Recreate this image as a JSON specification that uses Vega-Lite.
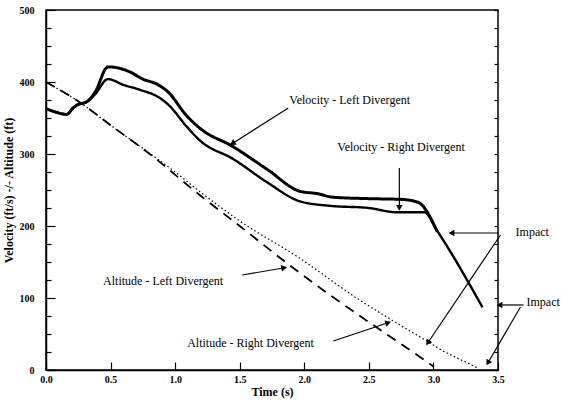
{
  "$schema": "https://vega.github.io/schema/vega-lite/v6.json",
  "width": 452,
  "height": 360,
  "autosize": {"type": "none"},
  "padding": {"left": 46, "top": 10, "right": 64, "bottom": 34},
  "background": "white",
  "config": {
    "view": {"stroke": "black", "strokeWidth": 1.5},
    "font": "Liberation Serif",
    "axis": {
      "grid": false,
      "domainColor": "black",
      "domainWidth": 1.5,
      "tickColor": "black",
      "tickWidth": 1.2,
      "labelColor": "black",
      "labelFont": "Liberation Serif",
      "labelFontWeight": "bold",
      "labelFontSize": 10,
      "titleColor": "black",
      "titleFont": "Liberation Serif",
      "titleFontWeight": "bold",
      "titleFontSize": 12,
      "labelOverlap": false,
      "labelFlush": false
    }
  },
  "datasets": {
    "curves": [
      {"series": "Velocity - Left Divergent", "t": 0, "v": 363},
      {"series": "Velocity - Left Divergent", "t": 0.08, "v": 358},
      {"series": "Velocity - Left Divergent", "t": 0.16, "v": 355},
      {"series": "Velocity - Left Divergent", "t": 0.21, "v": 364},
      {"series": "Velocity - Left Divergent", "t": 0.24, "v": 368},
      {"series": "Velocity - Left Divergent", "t": 0.32, "v": 373},
      {"series": "Velocity - Left Divergent", "t": 0.38, "v": 386},
      {"series": "Velocity - Left Divergent", "t": 0.48, "v": 421},
      {"series": "Velocity - Left Divergent", "t": 0.57, "v": 419},
      {"series": "Velocity - Left Divergent", "t": 0.65, "v": 414},
      {"series": "Velocity - Left Divergent", "t": 0.75, "v": 404},
      {"series": "Velocity - Left Divergent", "t": 0.86, "v": 397},
      {"series": "Velocity - Left Divergent", "t": 0.94, "v": 387},
      {"series": "Velocity - Left Divergent", "t": 1.09, "v": 353},
      {"series": "Velocity - Left Divergent", "t": 1.19, "v": 336},
      {"series": "Velocity - Left Divergent", "t": 1.45, "v": 310},
      {"series": "Velocity - Left Divergent", "t": 1.71, "v": 279},
      {"series": "Velocity - Left Divergent", "t": 1.97, "v": 248},
      {"series": "Velocity - Left Divergent", "t": 2.1, "v": 245},
      {"series": "Velocity - Left Divergent", "t": 2.22, "v": 240},
      {"series": "Velocity - Left Divergent", "t": 2.5, "v": 238},
      {"series": "Velocity - Left Divergent", "t": 2.75, "v": 237},
      {"series": "Velocity - Left Divergent", "t": 2.88, "v": 233},
      {"series": "Velocity - Left Divergent", "t": 3.03, "v": 192},
      {"series": "Velocity - Right Divergent", "t": 0, "v": 363},
      {"series": "Velocity - Right Divergent", "t": 0.08, "v": 358},
      {"series": "Velocity - Right Divergent", "t": 0.16, "v": 355},
      {"series": "Velocity - Right Divergent", "t": 0.21, "v": 364},
      {"series": "Velocity - Right Divergent", "t": 0.24, "v": 368},
      {"series": "Velocity - Right Divergent", "t": 0.32, "v": 373},
      {"series": "Velocity - Right Divergent", "t": 0.38, "v": 383},
      {"series": "Velocity - Right Divergent", "t": 0.48, "v": 404},
      {"series": "Velocity - Right Divergent", "t": 0.6, "v": 396},
      {"series": "Velocity - Right Divergent", "t": 0.73, "v": 389},
      {"series": "Velocity - Right Divergent", "t": 0.88, "v": 378},
      {"series": "Velocity - Right Divergent", "t": 0.95, "v": 368},
      {"series": "Velocity - Right Divergent", "t": 1.09, "v": 338},
      {"series": "Velocity - Right Divergent", "t": 1.19, "v": 319},
      {"series": "Velocity - Right Divergent", "t": 1.45, "v": 293},
      {"series": "Velocity - Right Divergent", "t": 1.71, "v": 261},
      {"series": "Velocity - Right Divergent", "t": 1.97, "v": 234},
      {"series": "Velocity - Right Divergent", "t": 2.2, "v": 228},
      {"series": "Velocity - Right Divergent", "t": 2.5, "v": 225},
      {"series": "Velocity - Right Divergent", "t": 2.72, "v": 219},
      {"series": "Velocity - Right Divergent", "t": 2.93, "v": 219},
      {"series": "Velocity - Right Divergent", "t": 3.03, "v": 193},
      {"series": "Velocity - Right Divergent", "t": 3.38, "v": 87},
      {"series": "Altitude - Left Divergent", "t": 0, "v": 400},
      {"series": "Altitude - Left Divergent", "t": 0.26, "v": 372},
      {"series": "Altitude - Left Divergent", "t": 0.5, "v": 340},
      {"series": "Altitude - Left Divergent", "t": 0.81, "v": 299},
      {"series": "Altitude - Left Divergent", "t": 1.19, "v": 243},
      {"series": "Altitude - Left Divergent", "t": 1.5, "v": 200},
      {"series": "Altitude - Left Divergent", "t": 1.89, "v": 145},
      {"series": "Altitude - Left Divergent", "t": 2.2, "v": 104},
      {"series": "Altitude - Left Divergent", "t": 2.57, "v": 58},
      {"series": "Altitude - Left Divergent", "t": 2.8, "v": 30},
      {"series": "Altitude - Left Divergent", "t": 3.0, "v": 5},
      {"series": "Altitude - Right Divergent", "t": 0, "v": 400},
      {"series": "Altitude - Right Divergent", "t": 0.26, "v": 372},
      {"series": "Altitude - Right Divergent", "t": 0.5, "v": 340},
      {"series": "Altitude - Right Divergent", "t": 0.81, "v": 300},
      {"series": "Altitude - Right Divergent", "t": 1.0, "v": 275},
      {"series": "Altitude - Right Divergent", "t": 1.19, "v": 248},
      {"series": "Altitude - Right Divergent", "t": 1.5, "v": 207},
      {"series": "Altitude - Right Divergent", "t": 1.95, "v": 157},
      {"series": "Altitude - Right Divergent", "t": 2.43, "v": 97},
      {"series": "Altitude - Right Divergent", "t": 2.7, "v": 67},
      {"series": "Altitude - Right Divergent", "t": 2.96, "v": 39},
      {"series": "Altitude - Right Divergent", "t": 3.05, "v": 29},
      {"series": "Altitude - Right Divergent", "t": 3.26, "v": 10},
      {"series": "Altitude - Right Divergent", "t": 3.35, "v": 2}
    ],
    "arrows": [
      {"t0": 1.876, "v0": 363.9, "t1": 1.45, "v1": 315.3, "angle": 237.5},
      {"t0": 2.736, "v0": 280.6, "t1": 2.736, "v1": 226.4, "angle": 180},
      {"t0": 1.519, "v0": 131.9, "t1": 1.837, "v1": 141.7, "angle": 80.3},
      {"t0": 2.225, "v0": 40.3, "t1": 2.643, "v1": 65.3, "angle": 71.6},
      {"t0": 3.504, "v0": 190.3, "t1": 3.147, "v1": 190.3, "angle": 270},
      {"t0": 3.519, "v0": 187.5, "t1": 2.961, "v1": 38.9, "angle": 213.9},
      {"t0": 3.698, "v0": 90.3, "t1": 3.519, "v1": 90.3, "angle": 270},
      {"t0": 3.674, "v0": 87.5, "t1": 3.426, "v1": 11.1, "angle": 210.2}
    ],
    "labels": [
      {"label": "Velocity - Left Divergent", "t": 1.884, "v": 375},
      {"label": "Velocity - Right Divergent", "t": 2.256, "v": 309.7},
      {"label": "Altitude - Left Divergent", "t": 0.442, "v": 123.6},
      {"label": "Altitude - Right Divergent", "t": 1.093, "v": 37.5},
      {"label": "Impact", "t": 3.636, "v": 191.7},
      {"label": "Impact", "t": 3.721, "v": 94.4}
    ]
  },
  "layer": [
    {
      "data": {"name": "curves"},
      "mark": {"type": "line", "color": "black", "strokeCap": "butt", "strokeJoin": "round", "interpolate": "monotone"},
      "encoding": {
        "x": {
          "field": "t", "type": "quantitative",
          "scale": {"domain": [0, 3.5], "nice": false},
          "axis": {
            "title": "Time (s)",
            "values": [0, 0.25, 0.5, 0.75, 1, 1.25, 1.5, 1.75, 2, 2.25, 2.5, 2.75, 3, 3.25, 3.5],
            "labelExpr": "(datum.value * 4) % 2 === 0 ? format(datum.value, '.1f') : ''",
            "tickSize": {"condition": {"test": "(datum.value * 4) % 2 === 0", "value": -8}, "value": -4},
            "labelPadding": 12,
            "titlePadding": 2
          }
        },
        "y": {
          "field": "v", "type": "quantitative",
          "scale": {"domain": [0, 500], "nice": false},
          "axis": {
            "title": "Velocity (ft/s) -/- Altitude (ft)",
            "values": [0, 25, 50, 75, 100, 125, 150, 175, 200, 225, 250, 275, 300, 325, 350, 375, 400, 425, 450, 475, 500],
            "labelExpr": "datum.value % 100 === 0 ? format(datum.value, 'd') : ''",
            "tickSize": {"condition": {"test": "datum.value % 100 === 0", "value": -9}, "value": -5},
            "labelPadding": 21,
            "titlePadding": 4
          }
        },
        "detail": {"field": "series", "type": "nominal"},
        "strokeWidth": {
          "field": "series", "type": "ordinal",
          "scale": {"domain": ["Velocity - Left Divergent", "Velocity - Right Divergent", "Altitude - Left Divergent", "Altitude - Right Divergent"], "range": [3, 1.2, 3, 1.1]},
          "legend": null
        },
        "strokeDash": {
          "field": "series", "type": "nominal",
          "scale": {"domain": ["Velocity - Left Divergent", "Velocity - Right Divergent", "Altitude - Left Divergent", "Altitude - Right Divergent"], "range": [[1, 0], [1, 0], [10, 7], [1.5, 2.5]]},
          "legend": null
        }
      }
    },
    {
      "data": {"name": "arrows"},
      "mark": {"type": "rule", "color": "black", "strokeWidth": 1.2},
      "encoding": {
        "x": {"field": "t0", "type": "quantitative"},
        "y": {"field": "v0", "type": "quantitative", "axis": null},
        "x2": {"field": "t1"},
        "y2": {"field": "v1"}
      }
    },
    {
      "data": {"name": "arrows"},
      "mark": {"type": "point", "shape": "triangle", "filled": true, "color": "black", "opacity": 1, "size": 45},
      "encoding": {
        "x": {"field": "t1", "type": "quantitative"},
        "y": {"field": "v1", "type": "quantitative", "axis": null},
        "angle": {"field": "angle", "type": "quantitative", "scale": null}
      }
    },
    {
      "data": {"name": "labels"},
      "mark": {"type": "text", "align": "left", "baseline": "middle", "fontSize": 12, "font": "Liberation Serif", "color": "black"},
      "encoding": {
        "x": {"field": "t", "type": "quantitative"},
        "y": {
          "field": "v", "type": "quantitative",
          "axis": {
            "orient": "right", "labels": false, "title": null, "domain": false,
            "values": [0, 25, 50, 75, 100, 125, 150, 175, 200, 225, 250, 275, 300, 325, 350, 375, 400, 425, 450, 475, 500],
            "tickSize": -4
          }
        },
        "text": {"field": "label"}
      }
    }
  ],
  "resolve": {"axis": {"y": "independent"}}
}
